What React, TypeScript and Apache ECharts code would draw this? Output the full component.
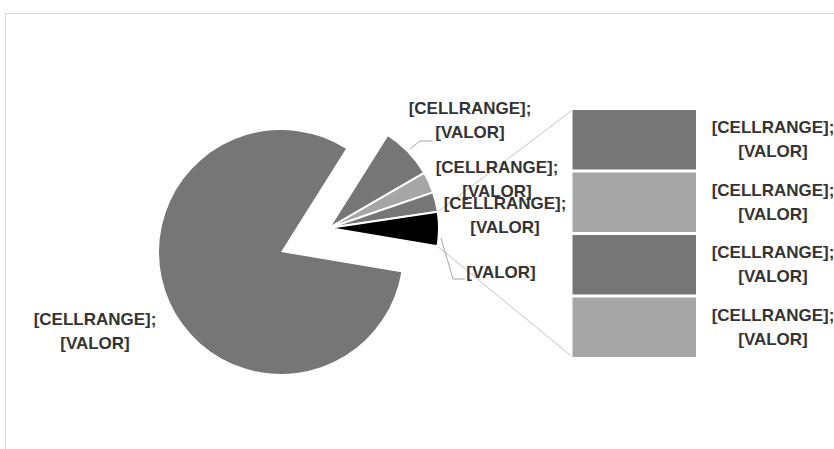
import React, { useEffect, useRef } from 'react';
import * as echarts from 'echarts';

// ---- data ----
const mainName = 'Parte 1';
const mainValue = 81.3;
const pieNames = ['Parte 2', 'Parte 3', 'Parte 4'];
const pieValues = [7.7, 3.1, 2.9];
const otherName = 'Outro';
const barNames = ['Parte 5', 'Parte 6', 'Parte 7', 'Parte 8'];
const barValues = [1.25, 1.25, 1.25, 1.25];
const fullLabel = '[CELLRANGE];\n[VALOR]';
const otherLabel = '[VALOR]';

// ---- styling / layout ----
const DARK = '#767676';
const LIGHT = '#a6a6a6';
const pieColors = [DARK, LIGHT, DARK];
const OTHER_COLOR = '#000000';
const barColors = [LIGHT, DARK, LIGHT, DARK]; // bottom to top
const TEXT = '#333333';
const FONT = '"Liberation Sans", Arial, sans-serif';

const START_ANGLE = 57.8;
const BIG_CENTER = [281, 252];
const BIG_R = 122;
const SMALL_CENTER = [329, 228];
const SMALL_R = 110;
const GRID = { left: 571, top: 108.5, width: 126.5, height: 250 };

export default function App() {
  const ref = useRef<HTMLDivElement>(null);
  useEffect(() => {
    if (!ref.current) return;
    const chart = echarts.init(ref.current, null, { renderer: 'svg' });
    const otherValue = barValues.reduce((a, b) => a + b, 0);
    const allValues = [...pieValues, otherValue, mainValue];
    const allNames = [...pieNames, otherName, mainName];
    const total = allValues.reduce((a, b) => a + b, 0);
    const unit = 360 / total;
    const otherStart = START_ANGLE - pieValues.reduce((a, b) => a + b, 0) * unit;
    const otherEnd = otherStart - otherValue * unit;
    const rad = (d: number) => (d * Math.PI) / 180;
    const cornerTop = [SMALL_CENTER[0] + SMALL_R * Math.cos(rad(otherStart)), SMALL_CENTER[1] - SMALL_R * Math.sin(rad(otherStart))];
    const cornerBot = [SMALL_CENTER[0] + SMALL_R * Math.cos(rad(otherEnd)), SMALL_CENTER[1] - SMALL_R * Math.sin(rad(otherEnd))];

    const labelStyle = {
      color: TEXT,
      fontFamily: FONT,
      fontWeight: 'bold' as const,
      fontSize: 17,
      lineHeight: 24,
      align: 'center' as const,
    };

    const bigData = allValues.map((v, i) => {
      const isBig = i === allValues.length - 1;
      return {
        name: allNames[i],
        value: v,
        itemStyle: { color: isBig ? DARK : 'transparent', borderWidth: 0 },
        label: { show: isBig, formatter: fullLabel },
        labelLine: { show: false },
      };
    });

    const smallColors = [...pieColors, OTHER_COLOR];
    const smallData = allValues.map((v, i) => {
      const isBig = i === allValues.length - 1;
      const isOther = i === pieValues.length;
      return {
        name: allNames[i],
        value: v,
        itemStyle: isBig
          ? { color: 'transparent', borderWidth: 0 }
          : { color: smallColors[i], borderColor: '#ffffff', borderWidth: 2 },
        label: { show: !isBig, formatter: isOther ? otherLabel : fullLabel },
        labelLine: { show: i === 0 || isOther, length: 8, length2: 8 },
      };
    });

    const smallLabelPos: Record<number, any> = {
      0: { x: 470, y: 120, pts: [[410, 149], [420, 141], [433, 141]] },
      1: { x: 497, y: 179 },
      2: { x: 505, y: 215 },
      3: { x: 501, y: 272, pts: [[441, 238], [453, 279], [465, 279]] },
    };

    const option: any = {
      animation: false,
      backgroundColor: '#ffffff',
      grid: { ...GRID, containLabel: false },
      xAxis: { type: 'category', data: ['bar'], show: false },
      yAxis: { type: 'value', min: 0, max: otherValue, show: false },
      graphic: [
        {
          type: 'rect',
          silent: true,
          shape: { x: 5.5, y: 13.5, width: 900, height: 600 },
          style: { fill: 'none', stroke: '#d9d9d9', lineWidth: 1 },
        },
        {
          type: 'line',
          silent: true,
          shape: { x1: cornerTop[0], y1: cornerTop[1], x2: GRID.left + 1.5, y2: GRID.top + 1.5 },
          style: { stroke: '#c4c4c4', lineWidth: 1 },
        },
        {
          type: 'line',
          silent: true,
          shape: { x1: cornerBot[0], y1: cornerBot[1], x2: GRID.left + 1.5, y2: GRID.top + GRID.height - 1.5 },
          style: { stroke: '#c4c4c4', lineWidth: 1 },
        },
      ],
      series: [
        {
          type: 'pie',
          silent: true,
          center: BIG_CENTER,
          radius: BIG_R,
          startAngle: START_ANGLE,
          clockwise: true,
          avoidLabelOverlap: false,
          label: { ...labelStyle, position: 'outside' },
          labelLayout: () => ({ x: 95, y: 331, align: 'center', verticalAlign: 'middle' }),
          data: bigData,
        },
        {
          type: 'pie',
          silent: true,
          center: SMALL_CENTER,
          radius: SMALL_R,
          startAngle: START_ANGLE,
          clockwise: true,
          avoidLabelOverlap: false,
          label: { ...labelStyle, position: 'outside' },
          labelLine: { lineStyle: { color: '#a6a6a6', width: 1 } },
          labelLayout: (p: any) => {
            const s = smallLabelPos[p.dataIndex];
            if (!s) return {};
            const r: any = { x: s.x, y: s.y, align: 'center', verticalAlign: 'middle' };
            if (s.pts) r.labelLinePoints = s.pts;
            return r;
          },
          data: smallData,
        },
        ...barValues.map((v, i) => ({
          type: 'bar',
          name: barNames[i],
          stack: 'outro',
          silent: true,
          barWidth: '100%',
          data: [v],
          itemStyle: { color: barColors[i], borderColor: '#ffffff', borderWidth: 1.5 },
          label: {
            show: true,
            formatter: fullLabel,
            position: [202, '50%'],
            verticalAlign: 'middle',
            ...labelStyle,
          },
        })),
      ],
    };
    chart.setOption(option);
    return () => chart.dispose();
  }, []);
  return <div ref={ref} style={{ position: 'absolute', left: 0, top: 0, width: 834, height: 449 }} />;
}
